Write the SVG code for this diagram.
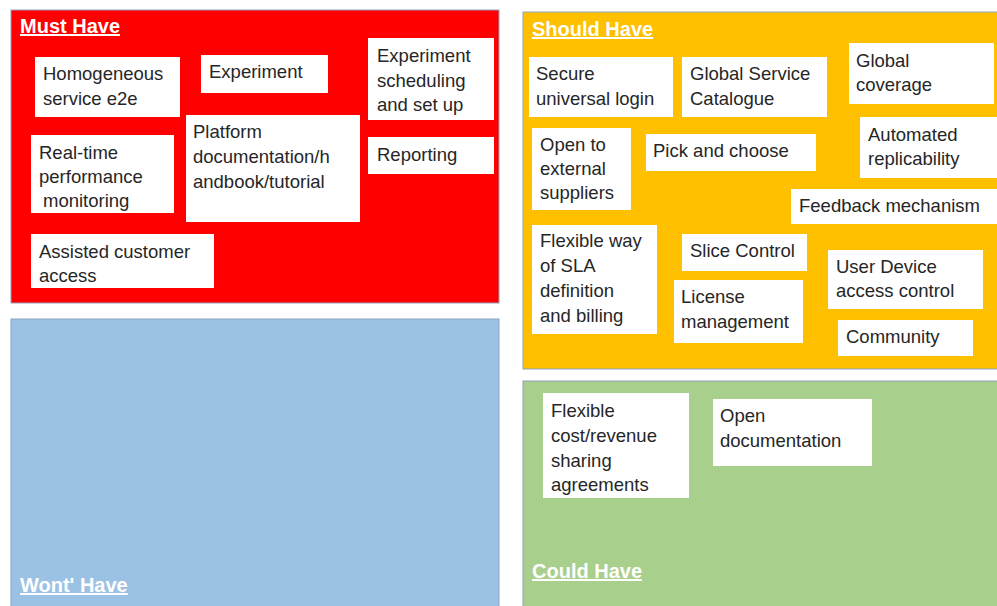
<svg xmlns="http://www.w3.org/2000/svg" width="997" height="606" viewBox="0 0 997 606">
<style>
.zone{stroke:#8fa3bd;stroke-width:1}
.title{font-family:"Liberation Sans",Arial,sans-serif;font-weight:bold;font-size:20px;fill:#fff;text-decoration:underline}
.card{fill:#fff}
.t{font-family:"Liberation Sans",Arial,sans-serif;font-size:18.5px;fill:#262626}
</style>
<rect width="997" height="606" fill="#fff"/>
<g id="must-have">
<rect class="zone" x="11" y="10" width="488" height="293" fill="#ff0000"/>
<text class="title" x="20" y="33">Must Have</text>
</g>
<g id="wont-have">
<rect class="zone" x="11" y="319" width="488" height="300" fill="#9bc2e5"/>
<text class="title" x="20" y="592">Wont' Have</text>
</g>
<g id="should-have">
<rect class="zone" x="523" y="12" width="490" height="357" fill="#ffc000"/>
<text class="title" x="532" y="36">Should Have</text>
</g>
<g id="could-have">
<rect class="zone" x="523" y="381" width="490" height="240" fill="#a9cf8c"/>
<text class="title" x="532" y="578">Could Have</text>
</g>

<g id="homogeneous"><rect class="card" x="35" y="57" width="145" height="60"/><text class="t" x="43" y="80">Homogeneous</text><text class="t" x="43" y="105">service e2e</text></g>
<g id="experiment"><rect class="card" x="201" y="55" width="127" height="38"/><text class="t" x="209" y="78">Experiment</text></g>
<g id="experiment-scheduling"><rect class="card" x="368" y="38" width="126" height="82"/><text class="t" x="377" y="62">Experiment</text><text class="t" x="377" y="87">scheduling</text><text class="t" x="377" y="111">and set up</text></g>
<g id="platform"><rect class="card" x="186" y="115" width="174" height="107"/><text class="t" x="193" y="138">Platform</text><text class="t" x="193" y="163">documentation/h</text><text class="t" x="193" y="188">andbook/tutorial</text></g>
<g id="reporting"><rect class="card" x="368" y="137" width="126" height="37"/><text class="t" x="377" y="161">Reporting</text></g>
<g id="real-time"><rect class="card" x="31" y="135" width="143" height="78"/><text class="t" x="39" y="159">Real-time</text><text class="t" x="39" y="183">performance</text><text class="t" x="39" y="207"> <tspan x="43">monitoring</tspan></text></g>
<g id="assisted"><rect class="card" x="31" y="234" width="183" height="54"/><text class="t" x="39" y="258">Assisted customer</text><text class="t" x="39" y="282">access</text></g>

<g id="secure-login"><rect class="card" x="529" y="57" width="144" height="60"/><text class="t" x="536" y="80">Secure</text><text class="t" x="536" y="105">universal login</text></g>
<g id="global-catalogue"><rect class="card" x="682" y="57" width="145" height="60"/><text class="t" x="690" y="80">Global Service</text><text class="t" x="690" y="105">Catalogue</text></g>
<g id="global-coverage"><rect class="card" x="849" y="43" width="145" height="61"/><text class="t" x="856" y="67">Global</text><text class="t" x="856" y="91">coverage</text></g>
<g id="automated"><rect class="card" x="860" y="117" width="140" height="61"/><text class="t" x="868" y="141">Automated</text><text class="t" x="868" y="165">replicability</text></g>
<g id="open-suppliers"><rect class="card" x="532" y="128" width="99" height="82"/><text class="t" x="540" y="151">Open to</text><text class="t" x="540" y="175">external</text><text class="t" x="540" y="199">suppliers</text></g>
<g id="pick-choose"><rect class="card" x="646" y="134" width="170" height="37"/><text class="t" x="653" y="157">Pick and choose</text></g>
<g id="feedback"><rect class="card" x="791" y="189" width="209" height="35"/><text class="t" x="799" y="212">Feedback mechanism</text></g>
<g id="flexible-sla"><rect class="card" x="532" y="225" width="125" height="109"/><text class="t" x="540" y="247">Flexible way</text><text class="t" x="540" y="272">of SLA</text><text class="t" x="540" y="297">definition</text><text class="t" x="540" y="322">and billing</text></g>
<g id="slice-control"><rect class="card" x="682" y="234" width="125" height="37"/><text class="t" x="690" y="257">Slice Control</text></g>
<g id="license"><rect class="card" x="674" y="280" width="129" height="63"/><text class="t" x="681" y="303">License</text><text class="t" x="681" y="328">management</text></g>
<g id="user-device"><rect class="card" x="828" y="250" width="155" height="59"/><text class="t" x="836" y="273">User Device</text><text class="t" x="836" y="297">access control</text></g>
<g id="community"><rect class="card" x="838" y="320" width="135" height="36"/><text class="t" x="846" y="343">Community</text></g>

<g id="flexible-cost"><rect class="card" x="543" y="393" width="146" height="105"/><text class="t" x="551" y="417">Flexible</text><text class="t" x="551" y="442">cost/revenue</text><text class="t" x="551" y="467">sharing</text><text class="t" x="551" y="491">agreements</text></g>
<g id="open-doc"><rect class="card" x="713" y="399" width="159" height="67"/><text class="t" x="720" y="422">Open</text><text class="t" x="720" y="447">documentation</text></g>

<g id="connectors"></g>
</svg>
